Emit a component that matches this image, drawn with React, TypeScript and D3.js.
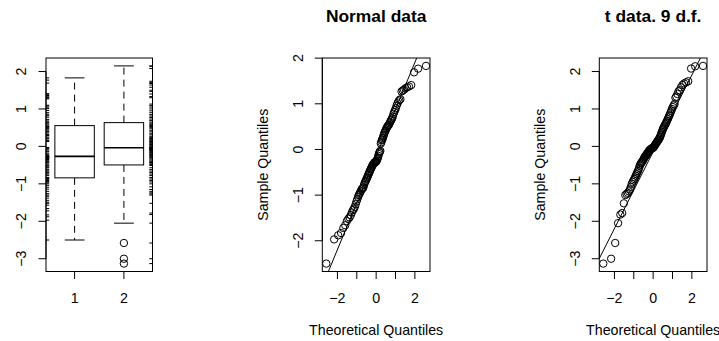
import React from "react";
import * as d3 from "d3";

// ---- data (sorted samples) ----
const normalData: number[] = [
  -2.50, -1.97, -1.88, -1.83, -1.72, -1.66, -1.57, -1.52, -1.49, -1.44,
  -1.38, -1.33, -1.30, -1.26, -1.20, -1.14, -1.09, -1.04, -1.00, -0.97,
  -0.94, -0.91, -0.88, -0.86, -0.85, -0.83, -0.78, -0.74, -0.71, -0.69,
  -0.66, -0.63, -0.61, -0.57, -0.55, -0.52, -0.50, -0.47, -0.44, -0.42,
  -0.40, -0.37, -0.35, -0.33, -0.32, -0.30, -0.29, -0.28, -0.27, -0.27,
  -0.26, -0.24, -0.21, -0.18, -0.14, -0.10, -0.07, -0.05, -0.03, 0.13,
  0.16, 0.20, 0.22, 0.25, 0.29, 0.32, 0.36, 0.39, 0.41, 0.44,
  0.47, 0.49, 0.51, 0.53, 0.54, 0.57, 0.60, 0.63, 0.65, 0.68,
  0.72, 0.78, 0.82, 0.86, 0.90, 0.96, 1.01, 1.05, 1.08, 1.10,
  1.27, 1.29, 1.31, 1.34, 1.36, 1.38, 1.41, 1.69, 1.77, 1.83,
];

const tData: number[] = [
  -3.13, -3.00, -2.58, -2.05, -1.82, -1.78, -1.52, -1.30, -1.27, -1.24,
  -1.20, -1.15, -1.08, -1.00, -0.95, -0.91, -0.87, -0.83, -0.78, -0.74,
  -0.70, -0.66, -0.62, -0.57, -0.51, -0.48, -0.45, -0.43, -0.41, -0.39,
  -0.36, -0.33, -0.30, -0.28, -0.26, -0.24, -0.22, -0.20, -0.18, -0.16,
  -0.14, -0.12, -0.11, -0.09, -0.08, -0.07, -0.06, -0.05, -0.04, -0.04,
  -0.03, -0.01, 0.01, 0.03, 0.05, 0.07, 0.09, 0.11, 0.13, 0.15,
  0.17, 0.19, 0.21, 0.24, 0.27, 0.31, 0.35, 0.39, 0.43, 0.47,
  0.50, 0.53, 0.56, 0.59, 0.62, 0.65, 0.69, 0.73, 0.77, 0.81,
  0.85, 0.90, 0.95, 1.00, 1.05, 1.09, 1.13, 1.30, 1.33, 1.40,
  1.47, 1.50, 1.58, 1.64, 1.68, 1.71, 1.74, 2.08, 2.14, 2.15,
];

const boxCategories = ["1", "2"];
const boxYTicks = [-3, -2, -1, 0, 1, 2];
const normalYTicks = [-2, -1, 0, 1, 2];
const tYTicks = [-3, -2, -1, 0, 1, 2];
const qqXTicks = [-2, -1, 0, 1, 2];
const qqXLabels = [-2, 0, 2];
const titles = ["Normal data", "t data. 9 d.f."];
const xTitle = "Theoretical Quantiles";
const yTitle = "Sample Quantiles";

// ---- helpers ----
function qnorm(p: number): number {
  const a = [-3.969683028665376e1, 2.209460984245205e2, -2.759285104469687e2, 1.38357751867269e2, -3.066479806614716e1, 2.506628277459239];
  const b = [-5.447609879822406e1, 1.615858368580409e2, -1.556989798598866e2, 6.680131188771972e1, -1.328068155288572e1];
  const c = [-7.784894002430293e-3, -3.223964580411365e-1, -2.400758277161838, -2.549732539343734, 4.374664141464968, 2.938163982698783];
  const d = [7.784695709041462e-3, 3.224671290700398e-1, 2.445134137142996, 3.754408661907416];
  const plow = 0.02425;
  if (p < plow) {
    const q = Math.sqrt(-2 * Math.log(p));
    return (((((c[0] * q + c[1]) * q + c[2]) * q + c[3]) * q + c[4]) * q + c[5]) / ((((d[0] * q + d[1]) * q + d[2]) * q + d[3]) * q + 1);
  }
  if (p <= 1 - plow) {
    const q = p - 0.5;
    const r = q * q;
    return ((((((a[0] * r + a[1]) * r + a[2]) * r + a[3]) * r + a[4]) * r + a[5]) * q) / (((((b[0] * r + b[1]) * r + b[2]) * r + b[3]) * r + b[4]) * r + 1);
  }
  const q = Math.sqrt(-2 * Math.log(1 - p));
  return -(((((c[0] * q + c[1]) * q + c[2]) * q + c[3]) * q + c[4]) * q + c[5]) / ((((d[0] * q + d[1]) * q + d[2]) * q + d[3]) * q + 1);
}

function ppoints(n: number): number[] {
  const a = n <= 10 ? 3 / 8 : 0.5;
  return d3.range(1, n + 1).map((i) => (i - a) / (n + 1 - 2 * a));
}

function extend(lo: number, hi: number): [number, number] {
  const e = (hi - lo) * 0.04;
  return [lo - e, hi + e];
}

function fivenum(xs: number[]): number[] {
  const x = [...xs].sort((p, q) => p - q);
  const n = x.length;
  const n4 = Math.floor((n + 3) / 2) / 2;
  const dd = [1, n4, (n + 1) / 2, n + 1 - n4, n];
  return dd.map((v) => 0.5 * (x[Math.floor(v) - 1] + x[Math.ceil(v) - 1]));
}

function boxStats(xs: number[]) {
  const f = fivenum(xs);
  const iqr = f[3] - f[1];
  const lo = f[1] - 1.5 * iqr;
  const hi = f[3] + 1.5 * iqr;
  const inside = xs.filter((v) => v >= lo && v <= hi);
  return {
    wlo: d3.min(inside) as number,
    q1: f[1],
    med: f[2],
    q3: f[3],
    whi: d3.max(inside) as number,
    out: xs.filter((v) => v < lo || v > hi),
  };
}

function qqLine(ys: number[]) {
  const s = [...ys].sort((p, q) => p - q);
  const y1 = d3.quantile(s, 0.25) as number;
  const y2 = d3.quantile(s, 0.75) as number;
  const x1 = qnorm(0.25);
  const x2 = qnorm(0.75);
  const slope = (y2 - y1) / (x2 - x1);
  return { slope, int: y1 - slope * x1 };
}

const FONT = "'Liberation Sans', Arial, Helvetica, sans-serif";
const FS = 14.2;
const TOP = 58;
const BOTTOM = 271.5;
const TICK = 7.5;
const R = 3.7;

const fmt = (v: number) => (v < 0 ? "\u2212" + Math.abs(v) : String(v));

function YAxis({ left, y, ticks }: { left: number; y: d3.ScaleLinear<number, number>; ticks: number[] }) {
  return (
    <g>
      <line x1={left} x2={left} y1={y(ticks[0])} y2={y(ticks[ticks.length - 1])} stroke="#000" />
      {ticks.map((t) => (
        <g key={t}>
          <line x1={left - TICK} x2={left} y1={y(t)} y2={y(t)} stroke="#000" />
          <text
            transform={`translate(${left - 19.8},${y(t)}) rotate(-90)`}
            textAnchor="middle"
            fontSize={FS}
            fontFamily={FONT}
          >
            {fmt(t)}
          </text>
        </g>
      ))}
    </g>
  );
}

function QQPanel({ left, right, data, lineSrc, yTicks, title }: {
  left: number; right: number; data: number[]; lineSrc: number[]; yTicks: number[]; title: string;
}) {
  const sorted = [...data].sort((p, q) => p - q);
  const theo = ppoints(sorted.length).map(qnorm);
  const x = d3.scaleLinear().domain(extend(d3.min(theo)!, d3.max(theo)!)).range([left, right]);
  const y = d3.scaleLinear().domain(extend(d3.min(sorted)!, d3.max(sorted)!)).range([BOTTOM, TOP]);
  const ln = qqLine(lineSrc);
  const [dx0, dx1] = x.domain();
  const id = `clip-${Math.round(left)}`;
  const cx = (left + right) / 2;
  return (
    <g>
      <defs>
        <clipPath id={id}>
          <rect x={left} y={TOP} width={right - left} height={BOTTOM - TOP} />
        </clipPath>
      </defs>
      <text x={cx} y={22} textAnchor="middle" fontSize={17.4} fontWeight="bold" fontFamily={FONT}>
        {title}
      </text>
      <g clipPath={`url(#${id})`}>
        {sorted.map((v, i) => (
          <circle key={i} cx={x(theo[i])} cy={y(v)} r={R} fill="none" stroke="#000" strokeWidth={1} />
        ))}
        <line
          x1={x(dx0)}
          y1={y(ln.int + ln.slope * dx0)}
          x2={x(dx1)}
          y2={y(ln.int + ln.slope * dx1)}
          stroke="#000"
        />
      </g>
      <rect x={left} y={TOP} width={right - left} height={BOTTOM - TOP} fill="none" stroke="#000" />
      {qqXTicks.map((t) => (
        <line key={t} x1={x(t)} x2={x(t)} y1={BOTTOM} y2={BOTTOM + TICK} stroke="#000" />
      ))}
      {qqXLabels.map((t) => (
        <text key={t} x={x(t)} y={303.3} textAnchor="middle" fontSize={FS} fontFamily={FONT}>
          {fmt(t)}
        </text>
      ))}
      <YAxis left={left} y={y} ticks={yTicks} />
      <text x={cx} y={335.2} textAnchor="middle" fontSize={FS} fontFamily={FONT}>
        {xTitle}
      </text>
      <text
        transform={`translate(${left - 54},${(TOP + BOTTOM) / 2}) rotate(-90)`}
        textAnchor="middle"
        fontSize={FS}
        fontFamily={FONT}
      >
        {yTitle}
      </text>
    </g>
  );
}

function BoxPanel({ left, right }: { left: number; right: number }) {
  const series = [normalData, tData];
  const all = series.flat();
  const x = d3.scaleLinear().domain(extend(0.5, series.length + 0.5)).range([left, right]);
  const y = d3.scaleLinear().domain(extend(d3.min(all)!, d3.max(all)!)).range([BOTTOM, TOP]);
  const pxPerUnit = x(1) - x(0);
  const hw = 0.4 * pxPerUnit;
  const sw = 0.2 * pxPerUnit;
  const rugLen = 0.03 * Math.min(right - left, BOTTOM - TOP);
  return (
    <g>
      {series.map((s, i) => {
        const st = boxStats(s);
        const c = x(i + 1);
        return (
          <g key={i}>
            <line x1={c} x2={c} y1={y(st.q3)} y2={y(st.whi)} stroke="#000" strokeDasharray="7,5" />
            <line x1={c} x2={c} y1={y(st.q1)} y2={y(st.wlo)} stroke="#000" strokeDasharray="7,5" />
            <line x1={c - sw} x2={c + sw} y1={y(st.whi)} y2={y(st.whi)} stroke="#000" />
            <line x1={c - sw} x2={c + sw} y1={y(st.wlo)} y2={y(st.wlo)} stroke="#000" />
            <rect x={c - hw} y={y(st.q3)} width={2 * hw} height={y(st.q1) - y(st.q3)} fill="#fff" stroke="#000" />
            <line x1={c - hw} x2={c + hw} y1={y(st.med)} y2={y(st.med)} stroke="#000" strokeWidth={1.6} />
            {st.out.map((o, k) => (
              <circle key={k} cx={c} cy={y(o)} r={R} fill="none" stroke="#000" />
            ))}
          </g>
        );
      })}
      {normalData.map((v, i) => (
        <line key={"l" + i} x1={left} x2={left + rugLen} y1={y(v)} y2={y(v)} stroke="#000" strokeWidth={1} />
      ))}
      {tData.map((v, i) => (
        <line key={"r" + i} x1={right} x2={right - rugLen} y1={y(v)} y2={y(v)} stroke="#000" strokeWidth={1} />
      ))}
      <rect x={left} y={TOP} width={right - left} height={BOTTOM - TOP} fill="none" stroke="#000" />
      {boxCategories.map((lab, i) => (
        <g key={lab}>
          <line x1={x(i + 1)} x2={x(i + 1)} y1={BOTTOM} y2={BOTTOM + TICK} stroke="#000" />
          <text x={x(i + 1)} y={302.5} textAnchor="middle" fontSize={FS} fontFamily={FONT}>
            {lab}
          </text>
        </g>
      ))}
      <YAxis left={left} y={y} ticks={boxYTicks} />
    </g>
  );
}

export default function App() {
  return (
    <svg
      width={719}
      height={341}
      viewBox="0 0 719 341"
      style={{ position: "absolute", left: 0, top: 0, background: "#fff" }}
    >
      <rect width={719} height={341} fill="#fff" />
      <BoxPanel left={46} right={152.5} />
      <QQPanel left={322.3} right={430} data={normalData} lineSrc={normalData} yTicks={normalYTicks} title={titles[0]} />
      <QQPanel left={599.3} right={707} data={tData} lineSrc={normalData} yTicks={tYTicks} title={titles[1]} />
    </svg>
  );
}
